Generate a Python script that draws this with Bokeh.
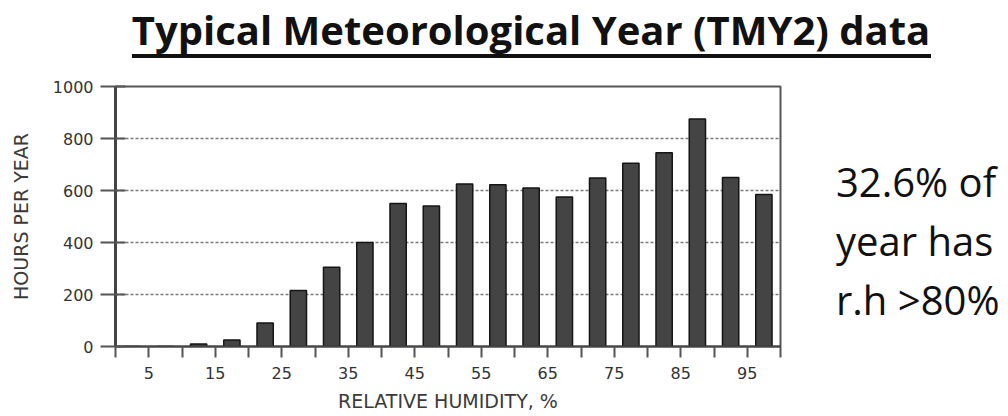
from bokeh.plotting import figure
from bokeh.models import FixedTicker, ColumnDataSource, Div
from bokeh.layouts import column, row
from bokeh.embed import file_html
from bokeh.resources import INLINE

# ---- data ----
RH_BIN_CENTERS = [2.5, 7.5, 12.5, 17.5, 22.5, 27.5, 32.5, 37.5, 42.5, 47.5,
                  52.5, 57.5, 62.5, 67.5, 72.5, 77.5, 82.5, 87.5, 92.5, 97.5]
HOURS_PER_YEAR = [0, 0, 10, 25, 90, 215, 305, 400, 550, 540,
                  625, 622, 610, 575, 648, 705, 745, 875, 650, 585]
X_TICK_LABELS = [5, 15, 25, 35, 45, 55, 65, 75, 85, 95]
X_MINOR_TICKS = [0, 10, 20, 30, 40, 50, 60, 70, 80, 90, 100]
Y_TICKS = [0, 200, 400, 600, 800, 1000]
TITLE = "Typical Meteorological Year (TMY2) data"
NOTE_LINES = ["32.6% of", "year has", "r.h >80%"]

# ---- layout (pixels) ----
W, H = 1008, 416
TITLE_H = 70
FIG_W = 800
FL, FR, FT, FB = 115, 780, 86, 346  # frame edges in page pixels

# ---- title block ----
title_html = (
    f'<div style="position:relative;width:{W}px;height:{TITLE_H}px;">'
    f'<div style="position:absolute;left:0;top:3px;width:1062px;text-align:center;'
    f'font-family:\'Open Sans\';font-weight:bold;font-size:40px;line-height:54px;'
    f'color:#111;white-space:nowrap;">{TITLE}</div>'
    f'<div style="position:absolute;left:132px;top:54px;width:799px;height:4px;'
    f'background:#111;"></div></div>'
)
title_div = Div(text=title_html, width=W, height=TITLE_H, margin=0)

# ---- chart ----
p = figure(width=FIG_W, height=H - TITLE_H, x_range=(0, 100), y_range=(0, 1000),
           min_border_left=FL, min_border_right=FIG_W - FR,
           min_border_top=FT - TITLE_H, min_border_bottom=H - FB,
           output_backend="svg", toolbar_location=None, margin=0)
p.background_fill_color = "white"
p.border_fill_color = "white"
p.outline_line_color = "#555555"
p.outline_line_width = 2

src = ColumnDataSource(dict(x=RH_BIN_CENTERS, top=HOURS_PER_YEAR))
p.vbar(x="x", top="top", width=2.45, bottom=0, source=src,
       fill_color="#444444", line_color="#151515", line_width=1.5)

xa = p.xaxis[0]
xa.ticker = FixedTicker(ticks=X_TICK_LABELS, minor_ticks=X_MINOR_TICKS)
xa.axis_line_color = "#444444"
xa.axis_line_width = 2
xa.major_tick_out = 11
xa.major_tick_in = 0
xa.minor_tick_out = 11
xa.minor_tick_in = 0
xa.major_tick_line_color = "#555555"
xa.minor_tick_line_color = "#555555"
xa.major_tick_line_width = 2
xa.minor_tick_line_width = 2
xa.major_label_text_font = "DejaVu Sans"
xa.major_label_text_font_size = "16px"
xa.major_label_text_color = "#333333"
xa.major_label_standoff = 9
xa.axis_label = "RELATIVE HUMIDITY, %"
xa.axis_label_text_font = "DejaVu Sans"
xa.axis_label_text_font_size = "19px"
xa.axis_label_text_font_style = "normal"
xa.axis_label_text_color = "#3a3a3a"
xa.axis_label_standoff = 8

ya = p.yaxis[0]
ya.ticker = FixedTicker(ticks=Y_TICKS)
ya.axis_line_color = "#444444"
ya.axis_line_width = 3
ya.major_tick_out = 15
ya.major_tick_in = 10
ya.minor_tick_out = 0
ya.minor_tick_in = 0
ya.major_tick_line_color = "#555555"
ya.major_tick_line_width = 2
ya.major_label_text_font = "DejaVu Sans"
ya.major_label_text_font_size = "16px"
ya.major_label_text_color = "#333333"
ya.major_label_standoff = 7
ya.axis_label = "HOURS PER YEAR"
ya.axis_label_text_font = "DejaVu Sans"
ya.axis_label_text_font_size = "19px"
ya.axis_label_text_font_style = "normal"
ya.axis_label_text_color = "#3a3a3a"
ya.axis_label_standoff = 18

p.xgrid.visible = False
p.ygrid.ticker = FixedTicker(ticks=Y_TICKS)
p.ygrid.grid_line_color = "#7a7a7a"
p.ygrid.grid_line_width = 1.5
p.ygrid.grid_line_dash = "3 2"

# ---- side note ----
NOTE_LEFT = 836 - FIG_W
note_parts = []
for i, line in enumerate(NOTE_LINES):
    baseline = 197 + i * 59 - TITLE_H
    top = baseline - 43
    note_parts.append(
        f'<div style="position:absolute;left:{NOTE_LEFT}px;top:{top}px;'
        f'font-family:\'Open Sans\';font-size:40px;line-height:55px;color:#111;'
        f'white-space:nowrap;">{line}</div>'
    )
note_html = (f'<div style="position:relative;width:{W - FIG_W}px;height:{H - TITLE_H}px;">'
             + "".join(note_parts) + '</div>')
note_div = Div(text=note_html, width=W - FIG_W, height=H - TITLE_H, margin=0)

layout = column(title_div, row(p, note_div, spacing=0, margin=0), spacing=0, margin=0)

open("out.html", "w").write(file_html(layout, INLINE))
